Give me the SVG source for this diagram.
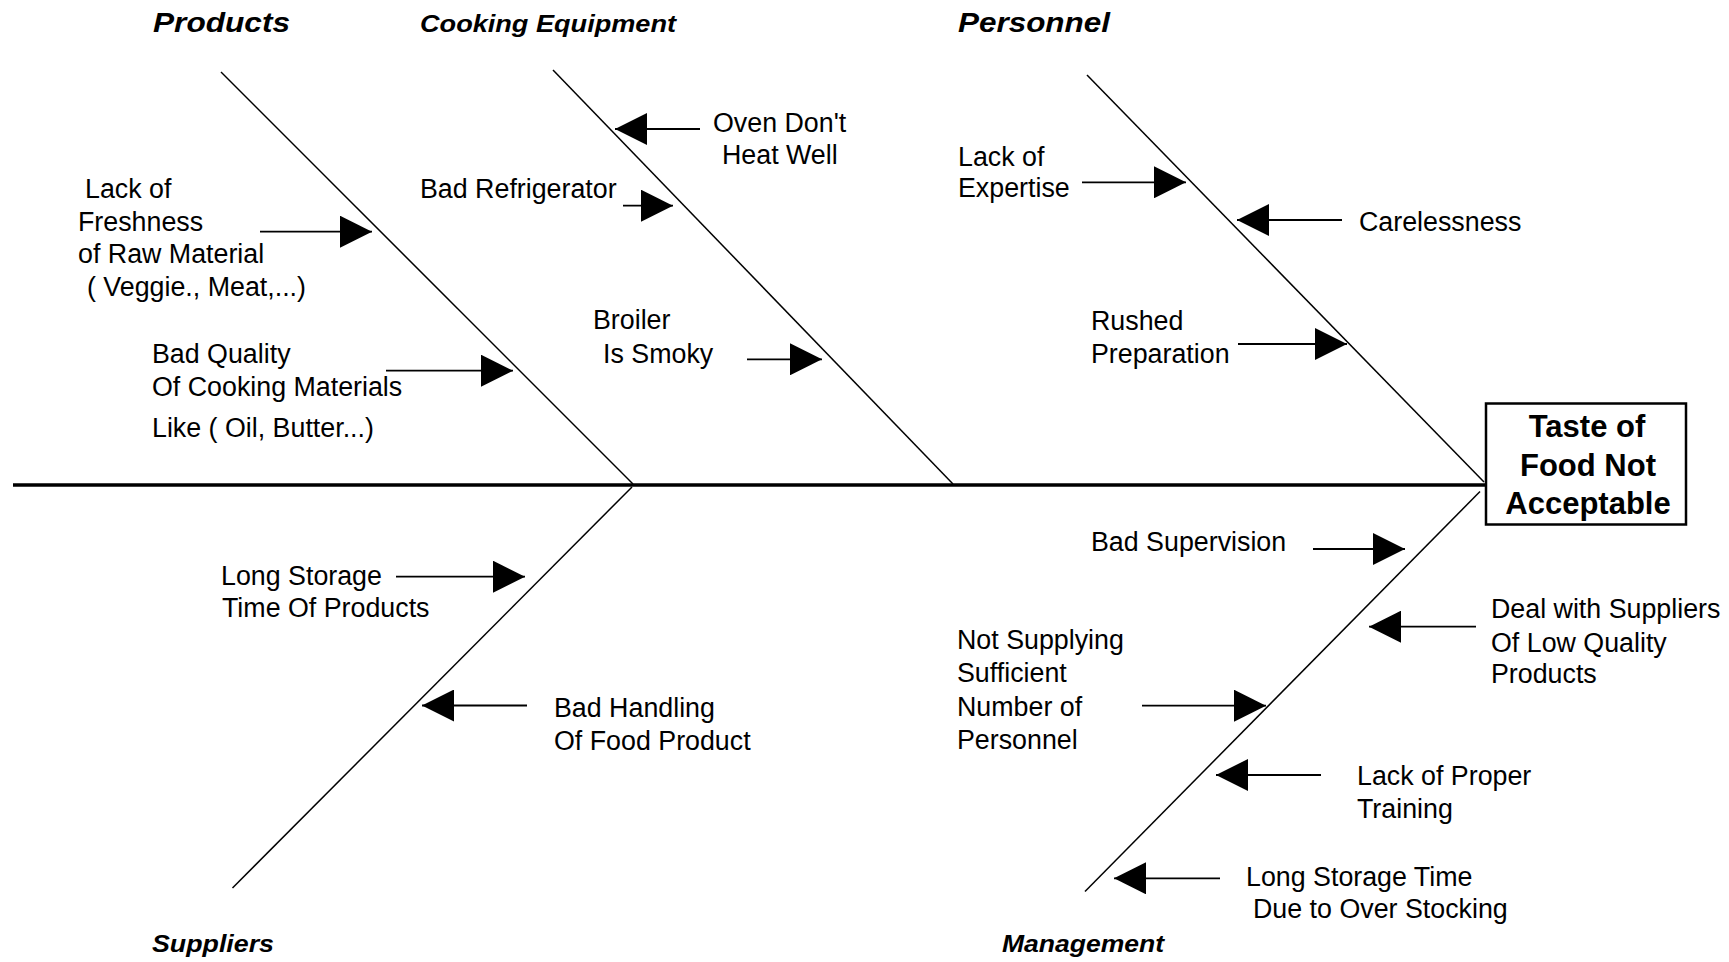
<svg xmlns="http://www.w3.org/2000/svg" width="1729" height="962" viewBox="0 0 1729 962">
<style>
  .bg{fill:#ffffff}
  .t{font-family:"Liberation Sans",Arial,Helvetica,sans-serif;font-size:26.8px;fill:#000}
  .h{font-family:"Liberation Sans",Arial,Helvetica,sans-serif;font-weight:bold;font-style:italic;fill:#000}
  .eff{font-family:"Liberation Sans",Arial,Helvetica,sans-serif;font-weight:bold;font-size:31px;fill:#000;text-anchor:middle}
  .spine{stroke:#000;stroke-width:3.5;fill:none}
  .bone{stroke:#000;stroke-width:1.5;fill:none}
  .arr{stroke:#000;stroke-width:1.8;fill:none;marker-end:url(#ah)}
  .box{fill:#fff;stroke:#000;stroke-width:2.5}
</style>
<defs>
  <marker id="ah" viewBox="0 0 32 32" markerWidth="32" markerHeight="32" refX="32" refY="16" orient="auto" markerUnits="userSpaceOnUse">
    <path d="M0,0 L32,16 L0,32 Z" fill="#000"/>
  </marker>
</defs>
<rect class="bg" x="0" y="0" width="1729" height="962"/>

<g id="connectors">
  <line class="spine" x1="13" y1="485" x2="1486" y2="485"/>
  <line class="bone" x1="221" y1="72" x2="633" y2="484"/>
  <line class="bone" x1="553" y1="70" x2="953" y2="484"/>
  <line class="bone" x1="1087" y1="75" x2="1484" y2="482"/>
  <line class="bone" x1="632" y1="487" x2="232.5" y2="888"/>
  <line class="bone" x1="1480" y1="491.5" x2="1085" y2="891.5"/>

  <line class="arr" x1="260" y1="231.7" x2="372" y2="231.7"/>
  <line class="arr" x1="386" y1="370.7" x2="513" y2="370.7"/>
  <line class="arr" x1="700" y1="129" x2="615" y2="129"/>
  <line class="arr" x1="623" y1="205.7" x2="673" y2="205.7"/>
  <line class="arr" x1="747" y1="359.3" x2="822" y2="359.3"/>
  <line class="arr" x1="1082" y1="182.3" x2="1186" y2="182.3"/>
  <line class="arr" x1="1342" y1="220" x2="1237" y2="220"/>
  <line class="arr" x1="1238" y1="344" x2="1347" y2="344"/>
  <line class="arr" x1="396" y1="576.7" x2="525" y2="576.7"/>
  <line class="arr" x1="527" y1="705.5" x2="422" y2="705.5"/>
  <line class="arr" x1="1313" y1="549" x2="1405" y2="549"/>
  <line class="arr" x1="1476" y1="626.7" x2="1369" y2="626.7"/>
  <line class="arr" x1="1142" y1="705.7" x2="1266" y2="705.7"/>
  <line class="arr" x1="1321" y1="775" x2="1216" y2="775"/>
  <line class="arr" x1="1220" y1="878.3" x2="1114" y2="878.3"/>
</g>

<g id="effect">
  <rect class="box" x="1486" y="403.5" width="200" height="121"/>
  <text class="eff" x="1587" y="436.7">Taste of</text>
  <text class="eff" x="1588" y="476">Food Not</text>
  <text class="eff" x="1588" y="514">Acceptable</text>
</g>

<g id="cat-products">
  <text class="h" x="153" y="32.3" font-size="28" textLength="137" lengthAdjust="spacingAndGlyphs">Products</text>
</g>
<g id="cat-cooking">
  <text class="h" x="420" y="31.7" font-size="24" textLength="256" lengthAdjust="spacingAndGlyphs">Cooking Equipment</text>
</g>
<g id="cat-personnel">
  <text class="h" x="958" y="31.7" font-size="28" textLength="152" lengthAdjust="spacingAndGlyphs">Personnel</text>
</g>
<g id="cat-suppliers">
  <text class="h" x="152" y="951.7" font-size="24" textLength="122" lengthAdjust="spacingAndGlyphs">Suppliers</text>
</g>
<g id="cat-management">
  <text class="h" x="1002" y="951.7" font-size="24" textLength="162" lengthAdjust="spacingAndGlyphs">Management</text>
</g>

<g id="cause-freshness">
  <text class="t" x="85" y="198.3">Lack of</text>
  <text class="t" x="78" y="230.7">Freshness</text>
  <text class="t" x="78" y="263.3">of Raw Material</text>
  <text class="t" x="87" y="296">( Veggie., Meat,...)</text>
</g>
<g id="cause-quality">
  <text class="t" x="152" y="363.3">Bad Quality</text>
  <text class="t" x="152" y="396">Of Cooking Materials</text>
  <text class="t" x="152" y="436.7">Like ( Oil, Butter...)</text>
</g>
<g id="cause-oven">
  <text class="t" x="713" y="131.7">Oven Don't</text>
  <text class="t" x="722" y="164.3">Heat Well</text>
</g>
<g id="cause-refrigerator">
  <text class="t" x="420" y="198.3">Bad Refrigerator</text>
</g>
<g id="cause-broiler">
  <text class="t" x="593" y="329.3">Broiler</text>
  <text class="t" x="603" y="362.7">Is Smoky</text>
</g>
<g id="cause-expertise">
  <text class="t" x="958" y="165.7">Lack of</text>
  <text class="t" x="958" y="196.7">Expertise</text>
</g>
<g id="cause-carelessness">
  <text class="t" x="1359" y="231">Carelessness</text>
</g>
<g id="cause-rushed">
  <text class="t" x="1091" y="330">Rushed</text>
  <text class="t" x="1091" y="362.7">Preparation</text>
</g>
<g id="cause-storage">
  <text class="t" x="221" y="585">Long Storage</text>
  <text class="t" x="222" y="616.7">Time Of Products</text>
</g>
<g id="cause-handling">
  <text class="t" x="554" y="716.7">Bad Handling</text>
  <text class="t" x="554" y="750">Of Food Product</text>
</g>
<g id="cause-supervision">
  <text class="t" x="1091" y="550.7">Bad Supervision</text>
</g>
<g id="cause-lowquality">
  <text class="t" x="1491" y="618.3">Deal with Suppliers</text>
  <text class="t" x="1491" y="651.7">Of Low Quality</text>
  <text class="t" x="1491" y="683.3">Products</text>
</g>
<g id="cause-staffing">
  <text class="t" x="957" y="649.3">Not Supplying</text>
  <text class="t" x="957" y="682.3">Sufficient</text>
  <text class="t" x="957" y="715.7">Number of</text>
  <text class="t" x="957" y="749.3">Personnel</text>
</g>
<g id="cause-training">
  <text class="t" x="1357" y="785">Lack of Proper</text>
  <text class="t" x="1357" y="818.3">Training</text>
</g>
<g id="cause-overstock">
  <text class="t" x="1246" y="886">Long Storage Time</text>
  <text class="t" x="1253" y="918.3">Due to Over Stocking</text>
</g>
</svg>
